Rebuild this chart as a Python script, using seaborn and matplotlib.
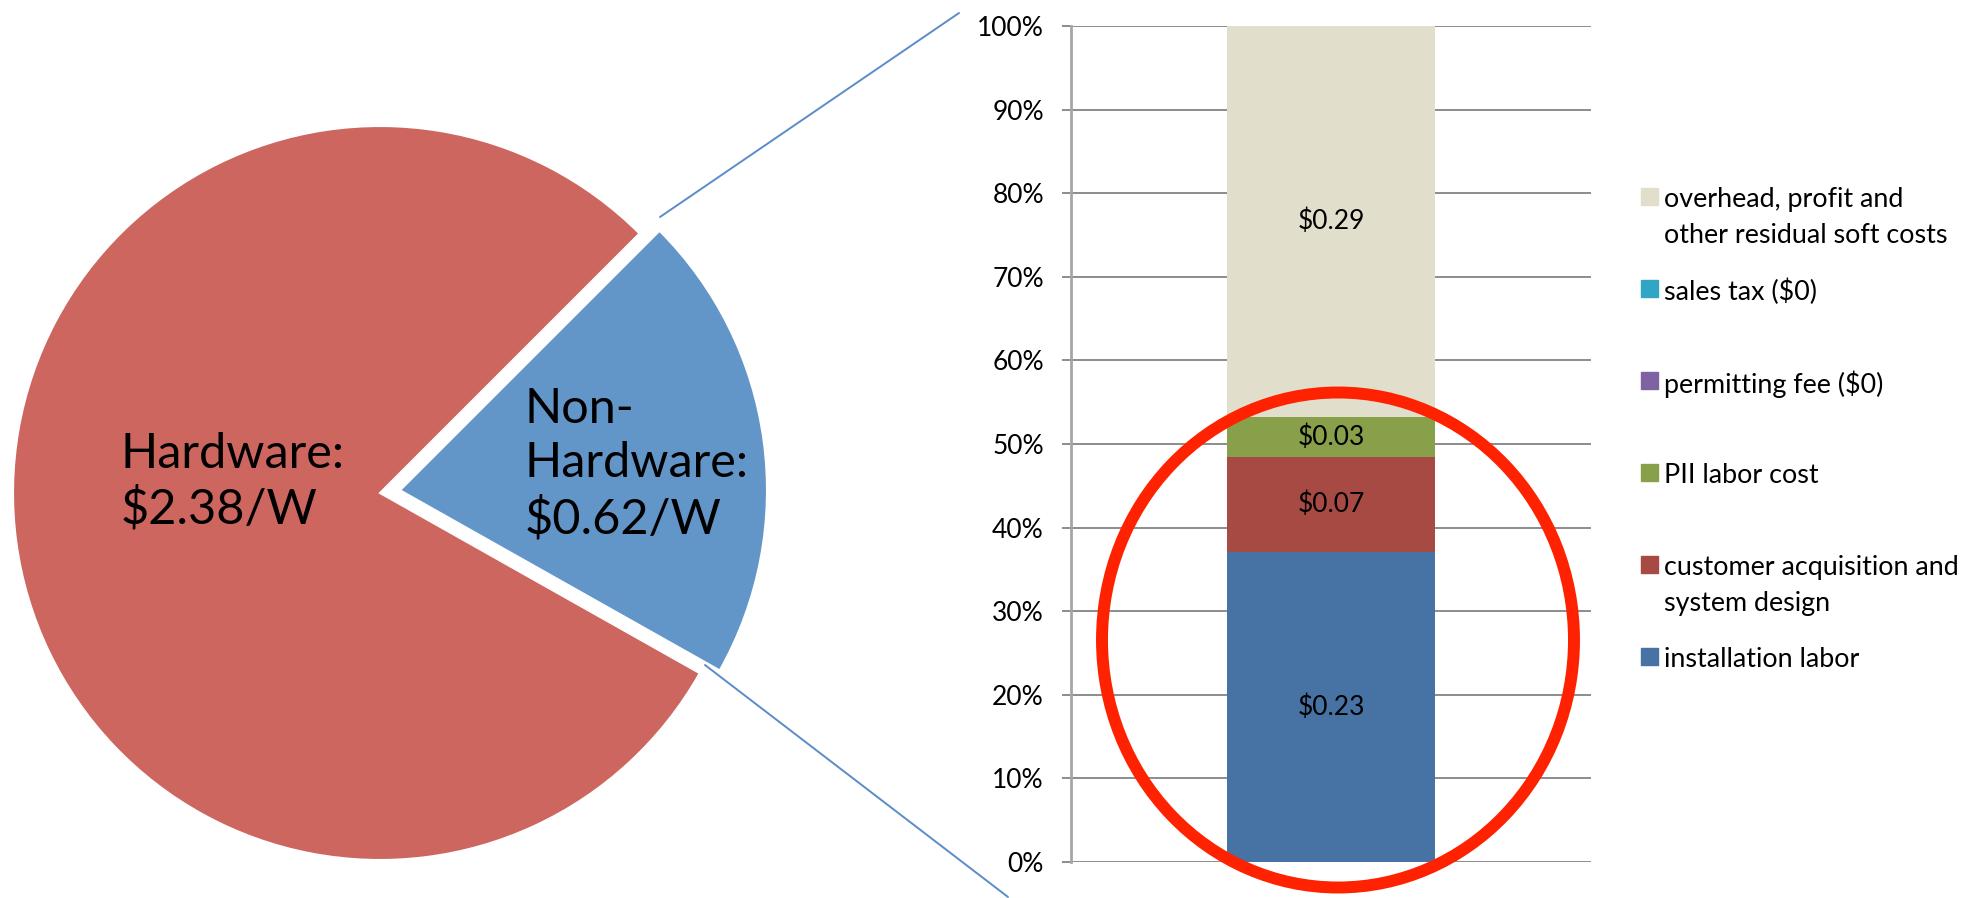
import numpy as np
import pandas as pd
import matplotlib.pyplot as plt
import seaborn as sns
from matplotlib.patches import Ellipse, Rectangle
from matplotlib.lines import Line2D

# pie: total installed cost split
pie_labels = ['Non-\nHardware:\n$0.62/W', 'Hardware:\n$2.38/W']
pie_values = [0.62, 2.38]
pie_colors = ['#6396C8', '#CD665F']

# stacked bar: breakdown of non-hardware cost (bottom to top)
segments = ['installation labor', 'customer acquisition and\nsystem design', 'PII labor cost',
            'permitting fee ($0)', 'sales tax ($0)', 'overhead, profit and\nother residual soft costs']
seg_values = [0.23, 0.07, 0.03, 0.0, 0.0, 0.29]
seg_colors = ['#4673A3', '#A74A44', '#89A04A', '#7E62A1', '#31A6C4', '#E1DFCC']
pct_ticks = list(range(0, 101, 10))

W, H = 1982, 898
sns.set_style('white')
plt.rcParams['font.family'] = ['Lato', 'DejaVu Sans']
plt.rcParams['text.color'] = 'black'
plt.rcParams['ytick.labelcolor'] = 'black'

def fx(px):
    return px / W

def fy(py):
    return 1 - py / H

fig = plt.figure(figsize=(W / 100, H / 100), dpi=100)

# ---- pie ----
R = 367.0
cx, cy = 380, 493
ax_pie = fig.add_axes([0, 0, fx(800), 1])
ax_pie.pie(pie_values, colors=pie_colors, startangle=-29.4, counterclock=True,
           explode=[0.055, 0], wedgeprops=dict(edgecolor='white', linewidth=1.5))
ax_pie.set_aspect('auto')
ax_pie.set_xlim(-cx / R, (800 - cx) / R)
ax_pie.set_ylim(-(H - cy) / R, cy / R)
ax_pie.axis('off')
ax_pie.text(-0.706, 0.03, pie_labels[1], ha='left', va='center', fontsize=35,
            linespacing=1.28, color='black')
ax_pie.text(0.395, 0.078, pie_labels[0], ha='left', va='center', fontsize=35,
            linespacing=1.28, color='black')

# ---- 100% stacked bar ----
ax_bar = fig.add_axes([fx(1071), fy(862), fx(1591) - fx(1071), fy(26) - fy(862)])
total = sum(seg_values)
cum = np.cumsum(seg_values) / total
for i in reversed(range(len(segments))):
    d = pd.DataFrame({'cat': [''], 'val': [cum[i]]})
    sns.barplot(data=d, x='cat', y='val', color=seg_colors[i], width=0.4,
                saturation=1, ax=ax_bar, linewidth=0)

prev = 0
for v, c in zip(seg_values, cum):
    if v > 0:
        ax_bar.text(0, (prev + c) / 2, f'${v:.2f}', ha='center', va='center',
                    fontsize=19, color='black')
    prev = c

ax_bar.set_ylim(0, 1)
ax_bar.set_yticks([t / 100 for t in pct_ticks])
ax_bar.set_yticklabels([f'{t}%' for t in pct_ticks], fontsize=19, color='black')
ax_bar.set_xticks([])
ax_bar.set_xlabel('')
ax_bar.set_ylabel('')
ax_bar.yaxis.grid(True, color='#8C8C8C', lw=1.4)
ax_bar.set_axisbelow(True)
for s in ['top', 'right', 'bottom']:
    ax_bar.spines[s].set_visible(False)
ax_bar.spines['left'].set_color('#A6A6A6')
ax_bar.spines['left'].set_linewidth(2)
ax_bar.tick_params(axis='y', left=True, length=6.5, width=1.4, color='#8C8C8C', pad=13)

# legend, drawn Excel-style (top entry first)
for k, i in enumerate(reversed(range(len(segments)))):
    yc = 196 + 92 * k
    fig.add_artist(Rectangle((fx(1641), fy(yc + 8.5)), 17 / W, 17 / H,
                             transform=fig.transFigure, color=seg_colors[i]))
    fig.text(fx(1664), fy(yc - 9), segments[i], ha='left', va='top', fontsize=19.4,
             linespacing=1.55, color='black')

# connector lines from the exploded slice to the bar
fig.add_artist(Line2D([fx(660), fx(959)], [fy(217), fy(13)], color='#5B8CC8', lw=1.4))
fig.add_artist(Line2D([fx(705), fx(1008)], [fy(665), fy(897)], color='#5B8CC8', lw=1.4))

# red highlight ring
fig.add_artist(Ellipse((fx(1338), fy(640)), 472 / W, 495 / H, transform=fig.transFigure,
                       fill=False, edgecolor='#FF2200', lw=8.6))

fig.savefig('out.png', dpi=100)
